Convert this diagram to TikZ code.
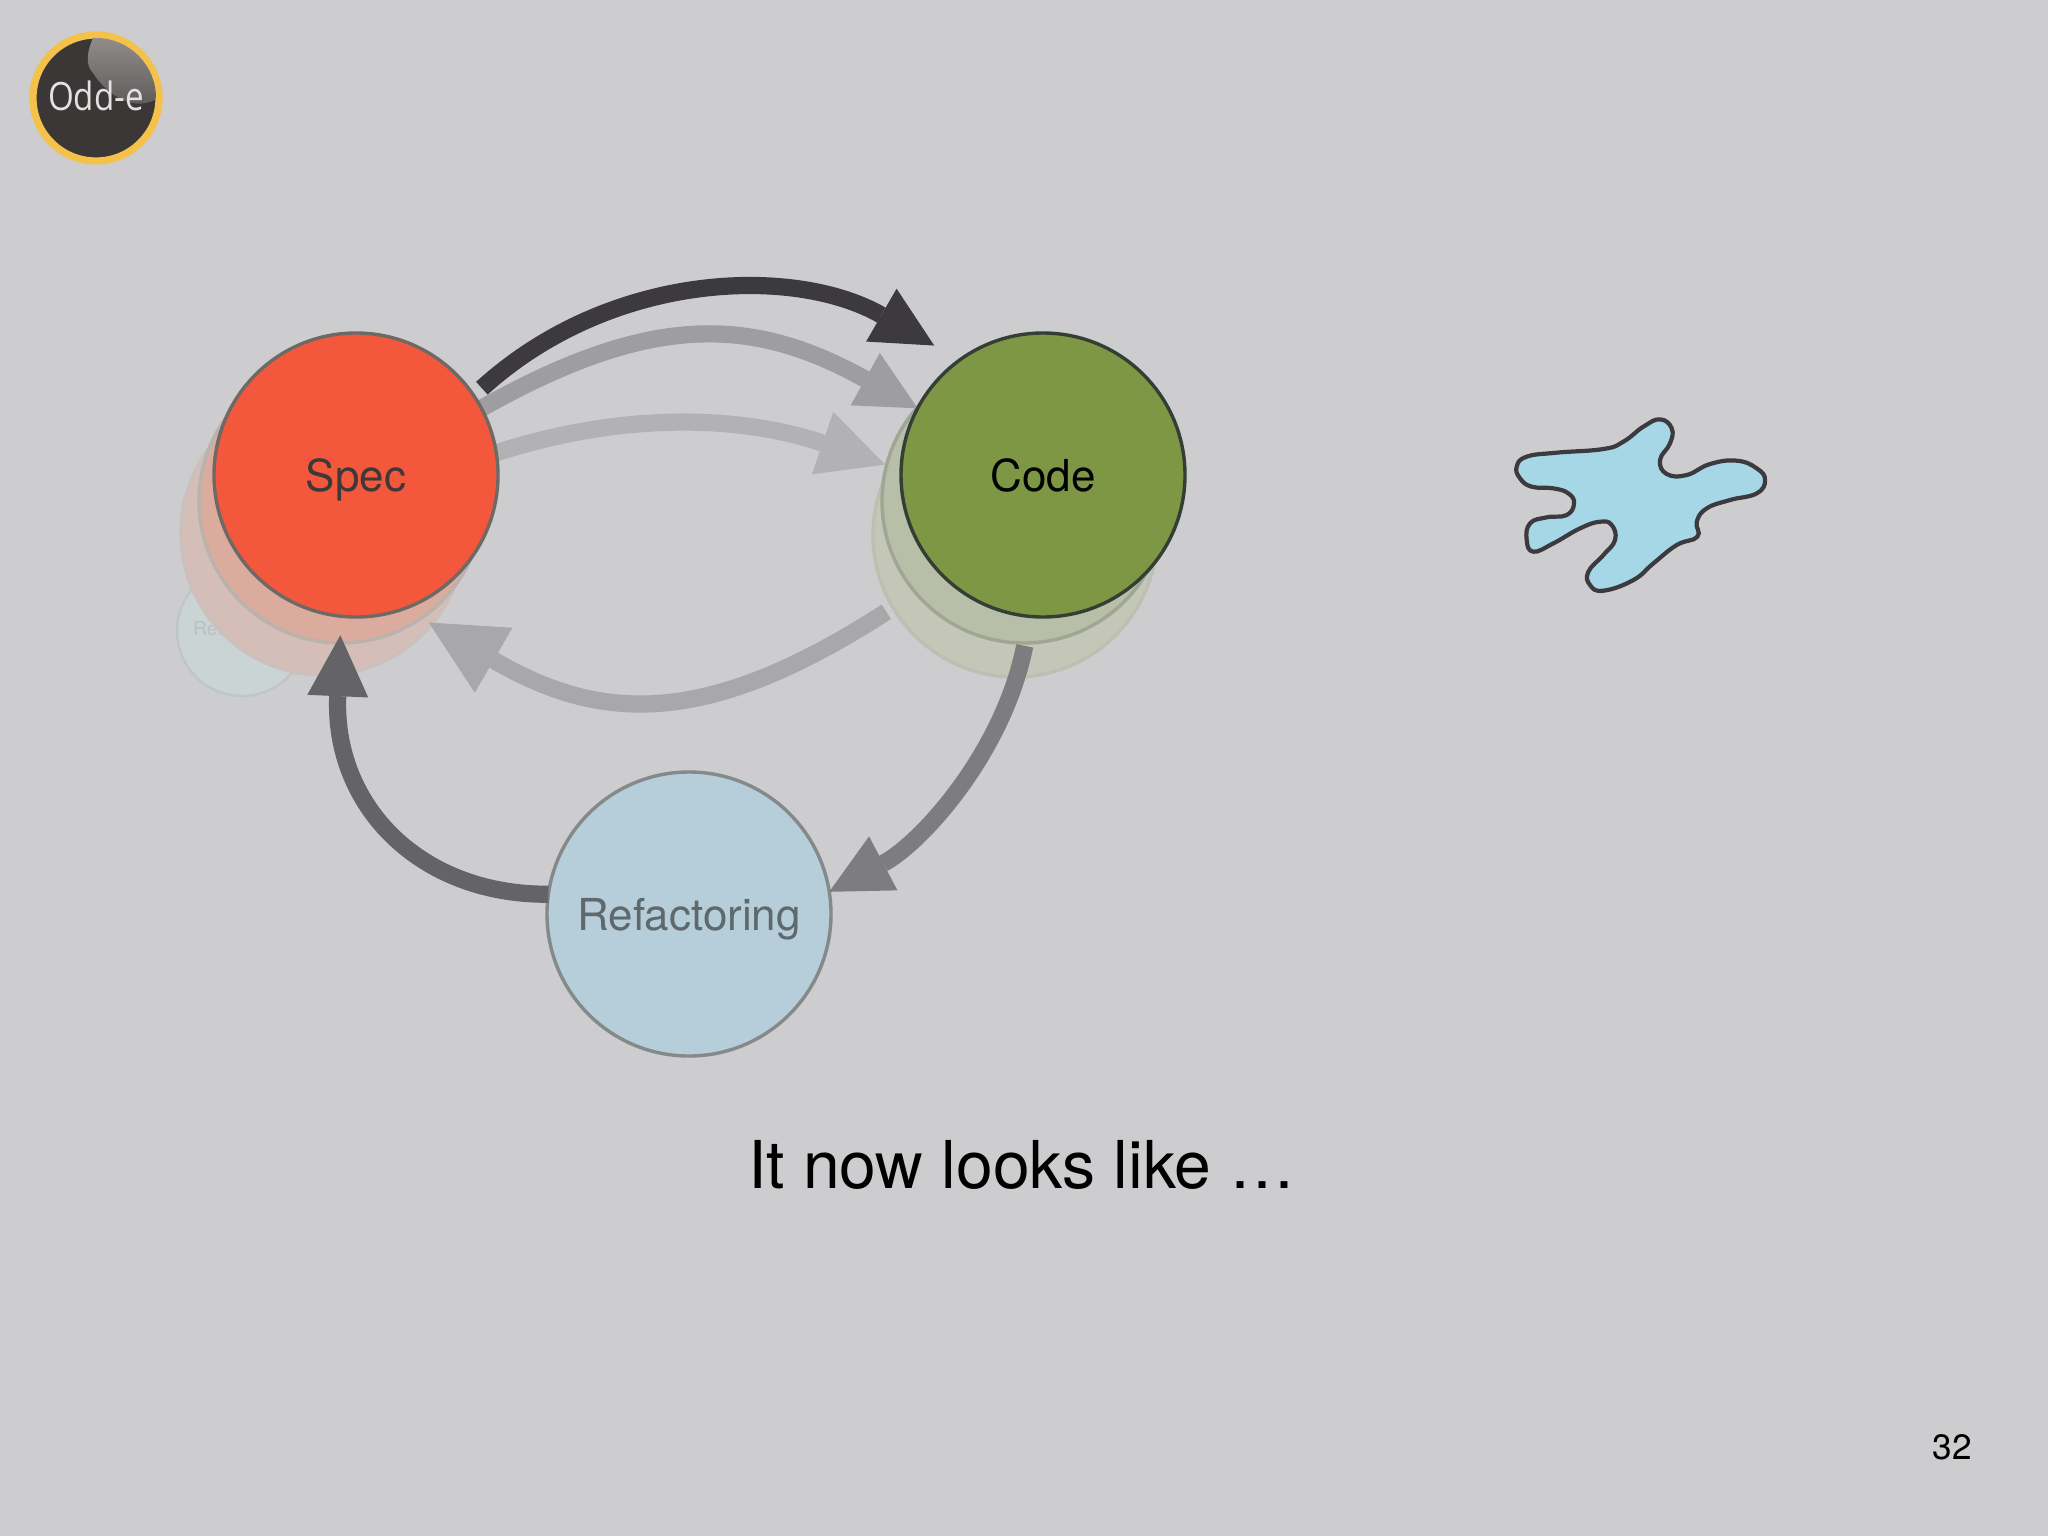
\documentclass[tikz,border=0pt]{standalone}
\usepackage{fontspec}
\setmainfont{TeX Gyre Heros}
\newfontfamily\logofont{Open Sans}
\usetikzlibrary{arrows.meta, backgrounds}
\definecolor{slidebg}{RGB}{205,204,206}
\definecolor{specred}{RGB}{243,88,60}
\definecolor{specline}{RGB}{110,105,100}
\definecolor{spectext}{RGB}{62,56,56}
\definecolor{codegreen}{RGB}{126,151,69}
\definecolor{codeline}{RGB}{52,62,52}
\definecolor{refblue}{RGB}{182,206,217}
\definecolor{refline}{RGB}{132,137,138}
\definecolor{reftext}{RGB}{95,105,108}
\definecolor{oldrefline}{RGB}{190,198,198}
\definecolor{oldreffill}{RGB}{203,212,212}
\definecolor{oldreftext}{RGB}{186,192,192}
\definecolor{oldspecbline}{RGB}{203,193,188}
\definecolor{oldspecbfill}{RGB}{213,190,183}
\definecolor{oldspecaline}{RGB}{186,178,172}
\definecolor{oldspecafill}{RGB}{219,172,157}
\definecolor{oldcodebline}{RGB}{188,192,178}
\definecolor{oldcodebfill}{RGB}{196,199,183}
\definecolor{oldcodealine}{RGB}{160,165,148}
\definecolor{oldcodeafill}{RGB}{184,191,168}
\definecolor{blobblue}{RGB}{165,215,230}
\definecolor{darkline}{RGB}{60,58,62}
\definecolor{flowb}{RGB}{158,157,160}
\definecolor{flowc}{RGB}{178,177,180}
\definecolor{flowd}{RGB}{168,167,170}
\definecolor{flowe}{RGB}{125,124,127}
\definecolor{flowf}{RGB}{100,100,102}
\definecolor{ringgold}{RGB}{244,194,74}
\definecolor{logodark}{RGB}{60,55,55}
\definecolor{logotop}{RGB}{150,146,146}
\definecolor{logolow}{RGB}{90,86,86}
\definecolor{logotext}{RGB}{226,226,226}
\begin{document}
\begin{tikzpicture}[
        x=.5pt, y=-.5pt,
        bubble/.style = {circle, draw=#1, line width=1.7pt, inner sep=0pt, outer sep=0pt,
                    minimum size=142pt, text height=16pt, text depth=0pt,
                    font=\fontsize{22}{26}\selectfont},
        flow/.style = {line width=8.6pt, -{Triangle[length=#1, width=#1, line width=0pt]}}
                    ]
        \useasboundingbox (0,0) rectangle (2048,1536);
        % front circles
        \node (spec) [bubble=specline, fill=specred, text=spectext] at (356,475) {Spec};
        \node (code) [bubble=codeline, fill=codegreen, text=black] at (1043,475) {Code};
        \node (refactor) [bubble=refline, fill=refblue, text=reftext] at (689,914) {Refactoring};
        %
        \begin{scope}[on background layer]
        \fill[slidebg] (0,0) rectangle (2048,1536);
        % faded earlier steps
        \node (oldref) [circle, draw=oldrefline, line width=1.2pt, fill=oldreffill, inner sep=0pt, minimum size=65pt, text=oldreftext, font=\fontsize{9.6}{11}\selectfont] at (242,631) {Refactoring};
        \node (oldspecb) [bubble=oldspecbline, fill=oldspecbfill] at (323,533) {};
        \node (oldspeca) [bubble=oldspecaline, fill=oldspecafill] at (341,501) {};
        \node (oldcodeb) [bubble=oldcodebline, fill=oldcodebfill] at (1015,535) {};
        \node (oldcodea) [bubble=oldcodealine, fill=oldcodeafill] at (1024,501) {};
        %
        \draw[flow=30pt, draw=flowb] (spec.28) .. controls (649,314) and (750,315) .. (code.152);
        \draw[flow=33pt, draw=flowc, shorten >=8.5pt] (spec.9) .. controls (642,406) and (758,421) .. (code.178);
        \end{scope}
        %
        \draw[flow=30.5pt, draw=darkline, shorten <=5.5pt, shorten >=14.6pt] (spec.34) .. controls (612,270) and (796,266) .. (code.126);
        \draw[flow=37.5pt, draw=flowd, shorten <=33.5pt, shorten >=14pt] (code.225) .. controls (705,729) and (600,722) .. (spec.290);
        \draw[flow=30.5pt, draw=flowe, shorten <=15pt] (code.265) .. controls (1003,754) and (920,844) .. (refactor.9);
        \draw[flow=30.5pt, draw=flowf, shorten >=9.5pt] (refactor.172) .. controls (420,895) and (333,806) .. (spec.264);
        % logo
        \node (logo) [circle, draw=ringgold, line width=3.6pt, fill=logodark, inner sep=0pt, minimum size=63pt] at (96,98) {};
        \begin{scope}
        \clip (96,98) circle (60);
        \shade[top color=logotop, bottom color=logolow] (97,30) .. controls (86,50) and (85,65) .. (93,73) .. controls (105,92) and (130,112) .. (155,100) -- (170,30) -- cycle;
        \end{scope}
        \node (logoname) [text=logotext, font=\logofont\fontsize{19.5}{22}\selectfont, inner sep=0pt] at (96,96) {\scalebox{.85}[1]{Odd-e}};
        % splash
        \begin{scope}[shift={(1490,400)}, x=.1667pt, y=-.1667pt]
        \draw[darkline, line width=2.1pt, fill=blobblue, line join=round] plot[smooth cycle, tension=.75] coordinates {
            (80,200) (110,170) (200,158) (340,147) (400,125) (460,80) (510,58) (545,85) (540,130)
            (510,180) (530,222) (590,225) (660,192) (740,182) (800,205) (825,240) (800,280) (720,300)
            (650,325) (620,365) (622,410) (560,435) (490,490) (430,540) (340,572) (300,555) (295,515)
            (340,465) (375,420) (365,375) (330,365) (270,385) (190,430) (130,455) (110,420) (120,370)
            (170,352) (230,345) (252,310) (235,280) (190,265) (125,260) (90,235)};
        \end{scope}
        %
        \node (caption) [font=\fontsize{33}{38}\selectfont, text=black] at (1022,1165) {It now looks like …};
        \node (pagenum) [font=\fontsize{17.6}{21}\selectfont, text=black] at (1952,1447) {32};
    \end{tikzpicture}
\end{document}
